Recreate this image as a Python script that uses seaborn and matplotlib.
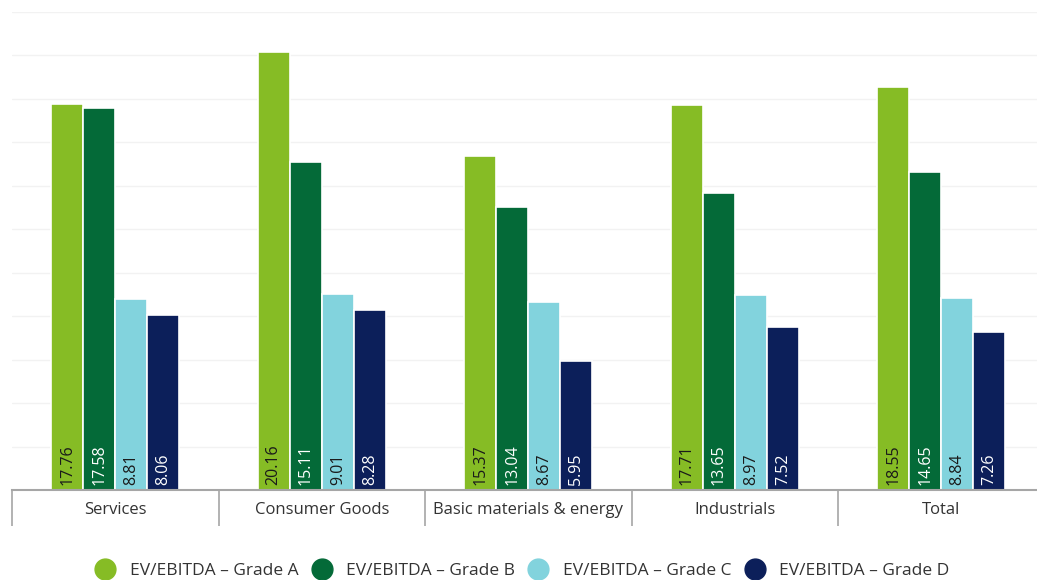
import matplotlib
matplotlib.use("Agg")
import matplotlib.pyplot as plt
from matplotlib.lines import Line2D
import seaborn as sns
import pandas as pd
import numpy as np

categories = ["Services", "Consumer Goods", "Basic materials & energy", "Industrials", "Total"]
series = ["EV/EBITDA – Grade A", "EV/EBITDA – Grade B", "EV/EBITDA – Grade C", "EV/EBITDA – Grade D"]
grade_a = [17.76, 20.16, 15.37, 17.71, 18.55]
grade_b = [17.58, 15.11, 13.04, 13.65, 14.65]
grade_c = [8.81, 9.01, 8.67, 8.97, 8.84]
grade_d = [8.06, 8.28, 5.95, 7.52, 7.26]
colors = ["#86BC25", "#046A38", "#82D3DD", "#0C1F5A"]
label_colors = ["#1a1a1a", "#ffffff", "#1a1a1a", "#ffffff"]

rows = []
for s, vals in zip(series, [grade_a, grade_b, grade_c, grade_d]):
    for c, v in zip(categories, vals):
        rows.append({"category": c, "series": s, "value": v})
df = pd.DataFrame(rows)

sns.set_theme(style="white")
plt.rcParams['font.family'] = ['Open Sans', 'DejaVu Sans']

W, H = 1037, 580
fig = plt.figure(figsize=(W / 100, H / 100), dpi=100)
left, right = 12, 1044.5
top, bottom = 12, 490
ax = fig.add_axes([left / W, (H - bottom) / H, (right - left) / W, (bottom - top) / H])

sns.barplot(data=df, x="category", y="value", hue="series", order=categories,
            hue_order=series, palette=colors, saturation=1, width=0.62, dodge=True,
            edgecolor="white", linewidth=1.2, legend=False, ax=ax)

ax.set_ylim(0, 22)
ax.set_xlim(-0.5, len(categories) - 0.5)
ax.set_yticks(np.arange(0, 23, 2))
ax.set_yticklabels([])
ax.tick_params(axis="y", length=0)
ax.grid(axis="y", color="#f2f2f2", linewidth=1)
ax.set_axisbelow(True)
for sp in ["top", "right", "left"]:
    ax.spines[sp].set_visible(False)
ax.spines["bottom"].set_color("#a6a6a6")
ax.spines["bottom"].set_linewidth(1.5)

ax.set_xticks(np.arange(-0.5, len(categories), 1.0), minor=True)
ax.tick_params(axis="x", which="minor", bottom=True, length=26, color="#a6a6a6",
               width=1.2, direction="out")
ax.tick_params(axis="x", which="major", bottom=False, length=0, pad=9, labelsize=12,
               labelcolor="#333333")
ax.set_xlabel("")
ax.set_ylabel("")

for i, cont in enumerate(ax.containers):
    for bar in cont:
        h = bar.get_height()
        ax.text(bar.get_x() + bar.get_width() / 2, 0.22, f"{h:.2f}", rotation=90,
                ha="center", va="bottom", fontsize=11.5, color=label_colors[i])

handles = [Line2D([0], [0], marker="o", linestyle="", markersize=15,
                  markerfacecolor=c, markeredgecolor=c) for c in colors]
fig.legend(handles, series, loc="center", bbox_to_anchor=(0.5, (H - 571) / H),
           ncol=4, frameon=False, fontsize=12.5, handletextpad=0.4, columnspacing=0.35,
           labelcolor="#333333")

fig.savefig("out.png", dpi=100)
